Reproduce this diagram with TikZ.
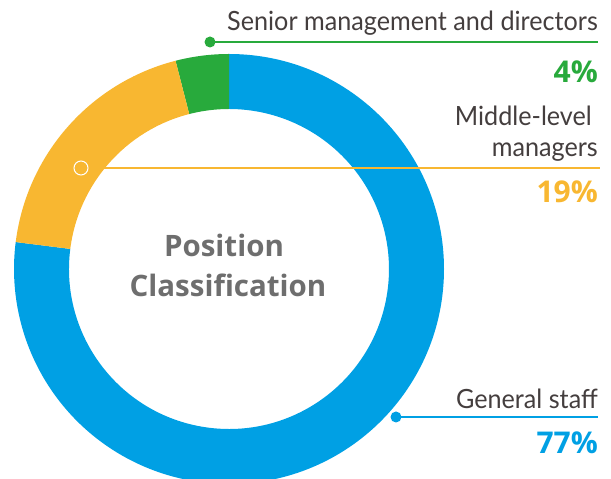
\documentclass[tikz,border=0pt]{standalone}
\usepackage{fontspec}
\setmainfont{Open Sans}
\newfontfamily\lblfont{Lato}
\definecolor{cblue}{RGB}{0,160,228}
\definecolor{cgreen}{RGB}{40,170,60}
\definecolor{cyellow}{RGB}{248,183,49}
\definecolor{ctext}{RGB}{68,62,62}
\definecolor{cgray}{RGB}{110,110,110}
\newcommand{\narrow}[1]{\scalebox{0.95}[1]{#1}}
\tikzset{
  lbl/.style={anchor=base east, inner sep=0pt, text=ctext, font=\lblfont\fontsize{26.5}{28}\selectfont},
  pct/.style={anchor=base east, inner sep=0pt, font=\fontsize{30}{32}\selectfont\bfseries},
  ttl/.style={anchor=base, inner sep=0pt, text=cgray, font=\fontsize{29.5}{32}\selectfont\bfseries},
  leader/.style={line width=1.4pt},
}
\begin{document}
\begin{tikzpicture}[x=1pt,y=1pt]
\useasboundingbox (0,0) rectangle (611,479);
\clip (0,0) rectangle (611,479);
\coordinate (c) at (229,210);
\def\Ro{215}
\def\Ri{160}
% ring segments
\fill[cblue] ([shift={(90:\Ro)}]c) arc[start angle=90,end angle=-187.2,radius=\Ro]
  -- ([shift={(-187.2:\Ri)}]c) arc[start angle=-187.2,end angle=90,radius=\Ri] -- cycle;
\fill[cgreen] ([shift={(90:\Ro)}]c) arc[start angle=90,end angle=104.4,radius=\Ro]
  -- ([shift={(104.4:\Ri)}]c) arc[start angle=104.4,end angle=90,radius=\Ri] -- cycle;
\fill[cyellow] ([shift={(104.4:\Ro)}]c) arc[start angle=104.4,end angle=172.8,radius=\Ro]
  -- ([shift={(172.8:\Ri)}]c) arc[start angle=172.8,end angle=104.4,radius=\Ri] -- cycle;
% center title
\node[ttl] (t1) at (224,222) {Position};
\node[ttl] (t2) at (228,182) {Classification};
% senior
\node[circle, fill=cgreen, minimum size=11pt, inner sep=0pt] (d1) at (210,437) {};
\coordinate (e1) at (598,437);
\draw[cgreen, leader] (d1.center) -- (e1);
\node[lbl] (l1) at (598,448) {\narrow{Senior management and directors}};
\node[pct, text=cgreen] (p1) at (598,396) {4\%};
% middle
\node[circle, draw=white, line width=1pt, minimum size=14pt, inner sep=0pt] (d2) at (81,311) {};
\coordinate (e2) at (600,311);
\draw[cyellow, leader] (d2.east) -- (e2);
\node[lbl] (l2a) at (592,353) {\narrow{Middle-level}};
\node[lbl] (l2b) at (598,322) {\narrow{managers}};
\node[pct, text=cyellow] (p2) at (598,276) {19\%};
% general
\node[circle, fill=cblue, minimum size=11pt, inner sep=0pt] (d3) at (396,62) {};
\coordinate (e3) at (598,62);
\draw[cblue, leader] (d3.center) -- (e3);
\node[lbl] (l3) at (598,70) {\narrow{General staff}};
\node[pct, text=cblue] (p3) at (598,25) {77\%};
\end{tikzpicture}
\end{document}
